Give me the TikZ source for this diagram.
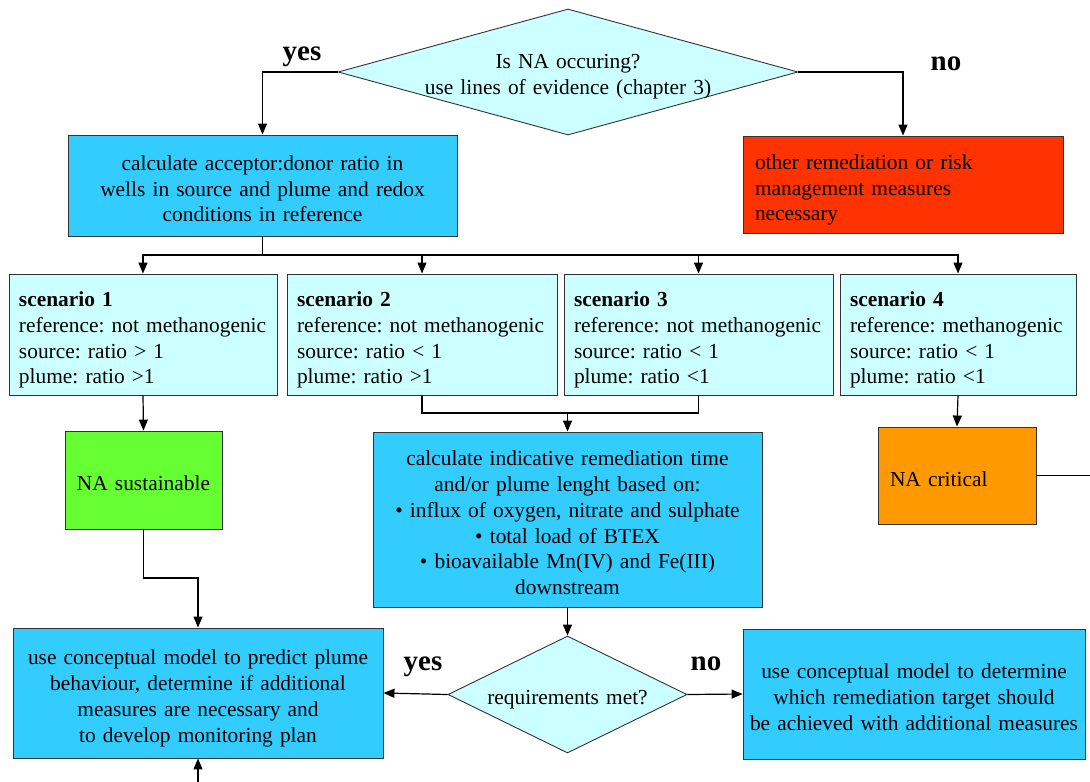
\documentclass[tikz,border=0pt]{standalone}
\usepackage{fontspec}
\setmainfont{Liberation Serif}
\usetikzlibrary{shapes.geometric,arrows.meta}
\definecolor{palecyan}{HTML}{CCFFFF}
\definecolor{skyblue}{HTML}{33CCFF}
\definecolor{alarmred}{HTML}{FF3300}
\definecolor{lightgreen}{HTML}{66FF33}
\definecolor{amber}{HTML}{FF9900}
\begin{document}
\begin{tikzpicture}[x=1pt,y=-1pt,>={Triangle[length=11pt,width=9pt]},line width=1.2pt,
flowbox/.style = {draw=black!80, line width=0.9pt, rectangle, inner sep=0pt, font=\fontsize{21.4}{25.8}\selectfont\frenchspacing, execute at begin node=\rule{0pt}{29pt}, execute at end node=\strut},
midbox/.style = {flowbox, fill=skyblue, align=center, inner xsep=2pt},
scenbox/.style = {flowbox, fill=palecyan, align=left, inner xsep=10pt},
notebox/.style = {flowbox, align=left, inner xsep=12pt},
decision/.style = {draw=black!80, line width=0.9pt, diamond, fill=palecyan, inner sep=0pt},
plain/.style = {font=\fontsize{21.4}{25.8}\selectfont\frenchspacing, align=center, inner sep=0pt, execute at begin node=\rule{0pt}{29pt}, execute at end node=\strut},
answer/.style = {font=\fontsize{29}{30}\selectfont\bfseries, anchor=base},]
\useasboundingbox (0,0) rectangle (1090,782);
% first decision
\node (isna) at (568,72)[decision, minimum width=460pt, minimum height=126pt]{};
\node (isnatext) at (568,71)[plain, text width=320pt]{Is NA occuring?\\use lines of evidence (chapter 3)};
\node (calc) at (262.5,185.5)[midbox, text width=385pt, minimum height=101pt]{calculate acceptor:donor ratio in\\wells in source and plume and redox\\conditions in reference};
\node (other) at (903,184.5)[notebox, fill=alarmred, text width=296pt, minimum height=97pt]{other remediation or risk\\management measures\\necessary};
% scenarios
\node (sc1) at (143,334.5)[scenbox, text width=248pt, minimum height=121pt]{\textbf{scenario 1}\\reference: not methanogenic\\source: ratio > 1\\plume: ratio >1};
\node (sc2) at (422,334.5)[scenbox, text width=250pt, minimum height=121pt]{\textbf{scenario 2}\\reference: not methanogenic\\source: ratio < 1\\plume: ratio >1};
\node (sc3) at (698.5,334.5)[scenbox, text width=249pt, minimum height=121pt]{\textbf{scenario 3}\\reference: not methanogenic\\source: ratio < 1\\plume: ratio <1};
\node (sc4) at (958,334.5)[scenbox, text width=216pt, minimum height=121pt]{\textbf{scenario 4}\\reference: methanogenic\\source: ratio < 1\\plume: ratio <1};
\node (sust) at (143.5,480)[midbox, fill=lightgreen, text width=153pt, minimum height=98pt]{NA sustainable};
\node (crit) at (957,475.5)[notebox, fill=amber, text width=134pt, minimum height=97pt]{NA critical};
\node (calcb) at (567.5,519.5)[midbox, text width=385pt, minimum height=175pt]{calculate indicative remediation time\\and/or plume lenght based on:\\• influx of oxygen, nitrate and sulphate\\• total load of BTEX\\• bioavailable Mn(IV) and Fe(III)\\downstream};
% second decision
\node (req) at (567.5,694.5)[decision, minimum width=239pt, minimum height=117pt]{};
\node (reqtext) at (567.5,694)[plain, text width=200pt]{requirements met?};
\node (predict) at (198,693)[midbox, text width=366pt, minimum height=130pt]{use conceptual model to predict plume\\behaviour, determine if additional\\measures are necessary and\\to develop monitoring plan};
\node (target) at (914,694)[midbox, text width=338pt, minimum height=130pt]{use conceptual model to determine\\which remediation target should\\be achieved with additional measures};
\node (yes1) at (302,60)[answer]{yes};
\node (no1) at (946,70)[answer]{no};
\node (yes2) at (423,670)[answer]{yes};
\node (no2) at (706,670)[answer]{no};
\coordinate (split) at (262.5,255);
\coordinate (merge) at (567.5,413);
\coordinate (bend) at (143.5,578);
\coordinate (edge) at (1090,475.5);
\coordinate (entry) at (198,782);
% connectors
\draw[->] (isna.west) -| (calc.north);
\draw[->] (isna.east) -| (other.north);
\draw (calc.south) -- (split);
\draw[->] (split) -| (sc1.north);
\draw[->] (split) -| (sc2.north);
\draw[->] (split) -| (sc3.north);
\draw[->] (split) -| (sc4.north);
\draw[->] (sc1.south) -- (sust.north);
\draw[->] (sust.south) -- (bend) -| (predict.north);
\draw (sc2.south) |- (merge);
\draw (sc3.south) |- (merge);
\draw[->] (merge) -- (calcb.north);
\draw[->] (calcb.south) -- (req.north);
\draw[->] (req.west) -- (predict.east);
\draw[->] (req.east) -- (target.west);
\draw[->] (sc4.south) -- (crit.north);
\draw (crit.east) -- (edge);
\draw[->] (entry) -- (predict.south);
\end{tikzpicture}
\end{document}
